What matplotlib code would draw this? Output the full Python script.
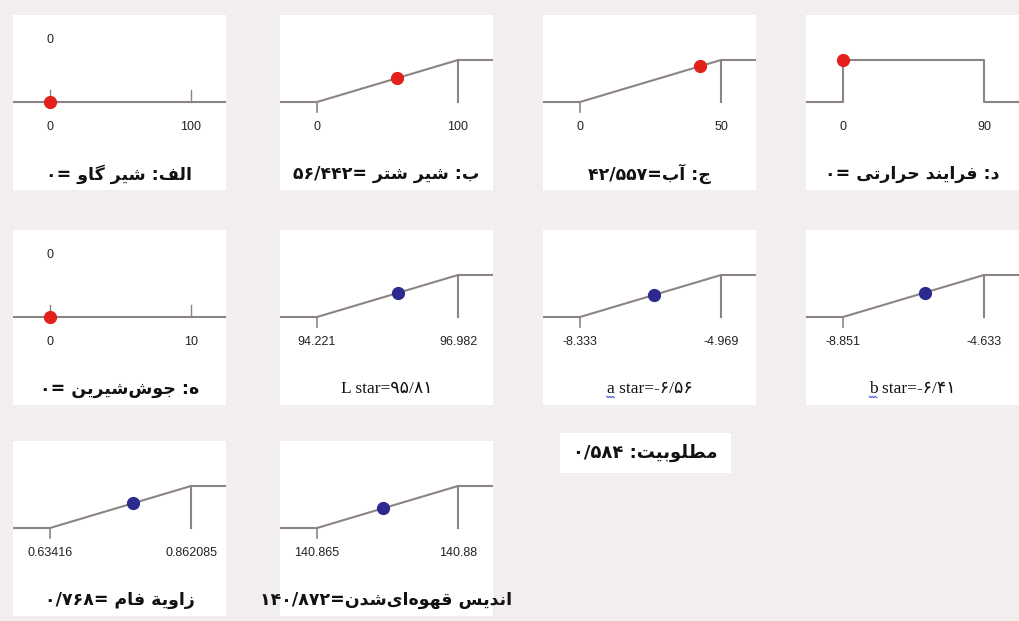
import re
import matplotlib
matplotlib.use("Agg")
import matplotlib.pyplot as plt
from matplotlib.patches import Rectangle
from matplotlib.lines import Line2D

# ---- data -------------------------------------------------------------
# factors (top row + first panel of the second row)
factor_titles = ["الف: شیر گاو =۰", "ب: شیر شتر =۵۶/۴۴۲", "ج: آب=۴۲/۵۵۷",
                 "د: فرایند حرارتی =۰", "ه: جوش\u200cشیرین =۰"]
factor_low = [0, 0, 0, 0, 0]
factor_high = [100, 100, 50, 90, 10]
factor_value = [0, 56.442, 42.557, 0, 0]
factor_kind = ["flat", "ramp", "ramp", "step", "flat"]

# responses (maximise goal)
response_titles = ["L star=۹۵/۸۱", "a star=-۶/۵۶", "b star=-۶/۴۱",
                   "زاویة فام =۰/۷۶۸", "اندیس قهوه\u200cای\u200cشدن=۱۴۰/۸۷۲"]
response_low = [94.221, -8.333, -8.851, 0.63416, 140.865]
response_high = [96.982, -4.969, -4.633, 0.862085, 140.88]
response_value = [95.81, -6.56, -6.41, 0.768, 140.872]
response_tick_labels = [("94.221", "96.982"), ("-8.333", "-4.969"), ("-8.851", "-4.633"),
                        ("0.63416", "0.862085"), ("140.865", "140.88")]

desirability_text = "مطلوبیت: ۰/۵۸۴"

# ---- simple Persian shaping / visual ordering --------------------------
FORMS = {
    'ا': (0xFE8D, 0xFE8E), 'آ': (0xFE81, 0xFE82),
    'ب': (0xFE8F, 0xFE90, 0xFE91, 0xFE92), 'پ': (0xFB56, 0xFB57, 0xFB58, 0xFB59),
    'ت': (0xFE95, 0xFE96, 0xFE97, 0xFE98), 'ج': (0xFE9D, 0xFE9E, 0xFE9F, 0xFEA0),
    'ح': (0xFEA1, 0xFEA2, 0xFEA3, 0xFEA4), 'د': (0xFEA9, 0xFEAA),
    'ر': (0xFEAD, 0xFEAE), 'ز': (0xFEAF, 0xFEB0),
    'س': (0xFEB1, 0xFEB2, 0xFEB3, 0xFEB4), 'ش': (0xFEB5, 0xFEB6, 0xFEB7, 0xFEB8),
    'ط': (0xFEC1, 0xFEC2, 0xFEC3, 0xFEC4), 'ف': (0xFED1, 0xFED2, 0xFED3, 0xFED4),
    'ق': (0xFED5, 0xFED6, 0xFED7, 0xFED8), 'گ': (0xFB92, 0xFB93, 0xFB94, 0xFB95),
    'ل': (0xFEDD, 0xFEDE, 0xFEDF, 0xFEE0), 'م': (0xFEE1, 0xFEE2, 0xFEE3, 0xFEE4),
    'ن': (0xFEE5, 0xFEE6, 0xFEE7, 0xFEE8), 'ه': (0xFEE9, 0xFEEA, 0xFEEB, 0xFEEC),
    'و': (0xFEED, 0xFEEE), 'ی': (0xFBFC, 0xFBFD, 0xFBFE, 0xFBFF),
    'ة': (0xFE93, 0xFE94),
}


def shape(s):
    out = []
    for i, ch in enumerate(s):
        f = FORMS.get(ch)
        if f is None:
            if ch != '\u200c':
                out.append(ch)
            continue
        prev = s[i - 1] if i > 0 else ''
        nxt = s[i + 1] if i + 1 < len(s) else ''
        from_prev = prev in FORMS and len(FORMS[prev]) == 4
        to_next = len(f) == 4 and nxt in FORMS
        if from_prev and to_next:
            code = f[3]
        elif from_prev:
            code = f[1]
        elif to_next:
            code = f[2]
        else:
            code = f[0]
        out.append(chr(code))
    return ''.join(out)


def rtl(s):
    tokens = re.findall(r'[۰-۹0-9]+(?:[/.][۰-۹0-9]+)*|[^۰-۹0-9]+', shape(s))
    return ''.join(t if t[0].isdigit() else t[::-1] for t in reversed(tokens))


# ---- layout ----------------------------------------------------------
W, H = 1019, 621
BG = "#f2eeee"
LINE = "#8c8482"
RED = "#e3201b"
BLUE = "#2c2a8e"
col_left = [13, 280, 543, 806]
row_top = [15, 230, 441]
PW, PH = 213, 175
LO_PX, HI_PX = 37, 178          # x of low / high value inside a panel
Y0_PX, Y1_PX = 87, 45           # y of desirability 0 / 1 from panel top
LABEL_Y, TITLE_Y = -0.6, -1.72
fa_font = ["DejaVu Sans"]
num_font = ["Liberation Sans", "DejaVu Sans"]

fig = plt.figure(figsize=(W / 100, H / 100), dpi=100, facecolor=BG)


def panel(col, row, lo, hi):
    left, top = col_left[col], row_top[row]
    ax = fig.add_axes([left / W, 1 - (top + PH) / H, PW / W, PH / H])
    ax.set_facecolor("white")
    for s in ax.spines.values():
        s.set_visible(False)
    ax.set_xticks([])
    ax.set_yticks([])
    unit = (hi - lo) / (HI_PX - LO_PX)
    ax.set_xlim(lo - LO_PX * unit, lo + (PW - LO_PX) * unit)
    yunit = 1 / (Y0_PX - Y1_PX)
    ax.set_ylim(-(PH - Y0_PX) * yunit, 1 + Y1_PX * yunit)
    return ax


def ramp(ax, lo, hi):
    x0, x1 = ax.get_xlim()
    ax.plot([x0, lo, hi, x1], [0, 0, 1, 1], color=LINE, lw=1.5, solid_capstyle="butt")
    ax.plot([hi, hi], [0, 1], color=LINE, lw=1.5)
    ax.plot([lo, lo], [0, -0.24], color=LINE, lw=1.2)


def bottom_labels(ax, lo, hi, lo_txt, hi_txt):
    for x, t in ((lo, lo_txt), (hi, hi_txt)):
        ax.text(x, LABEL_Y, t, ha="center", va="center", fontsize=9,
                family=num_font, color="#222222")


# factor panels
positions = [(0, 0), (1, 0), (2, 0), (3, 0), (0, 1)]
for i, (c, r) in enumerate(positions):
    lo, hi, v = factor_low[i], factor_high[i], factor_value[i]
    ax = panel(c, r, lo, hi)
    x0, x1 = ax.get_xlim()
    kind = factor_kind[i]
    if kind == "flat":
        ax.plot([x0, x1], [0, 0], color=LINE, lw=1.5)
        for x in (lo, hi):
            ax.plot([x, x], [0, 0.28], color=LINE, lw=1.0)
        ax.text(lo, 1.48, f"{v:g}", ha="center", va="center", fontsize=9,
                family=num_font, color="#222222")
        vy = 0
    elif kind == "step":
        ax.plot([x0, lo, lo, hi, hi, x1], [0, 0, 1, 1, 0, 0], color=LINE, lw=1.5)
        vy = 1
    else:
        ramp(ax, lo, hi)
        vy = (v - lo) / (hi - lo)
    ax.plot([v], [vy], "o", ms=8.5, color=RED, mec=RED, zorder=5, clip_on=False)
    bottom_labels(ax, lo, hi, f"{lo:g}", f"{hi:g}")
    ax.text((x0 + x1) / 2, TITLE_Y, rtl(factor_titles[i]), ha="center", va="center",
            fontsize=12.5, fontweight="bold", family=fa_font, color="#111111")

# response panels
squiggle_texts = []
positions = [(1, 1), (2, 1), (3, 1), (0, 2), (1, 2)]
for i, (c, r) in enumerate(positions):
    lo, hi, v = response_low[i], response_high[i], response_value[i]
    ax = panel(c, r, lo, hi)
    x0, x1 = ax.get_xlim()
    ramp(ax, lo, hi)
    ax.plot([v], [(v - lo) / (hi - lo)], "o", ms=8.5, color=BLUE, mec=BLUE, zorder=5)
    bottom_labels(ax, lo, hi, *response_tick_labels[i])
    title = response_titles[i]
    if title[0].isascii():
        t = ax.text((x0 + x1) / 2, TITLE_Y, title, ha="center", va="center",
                    fontsize=12.5, family=["Liberation Serif", "DejaVu Sans"],
                    color="#111111")
        if title[0] in "ab":
            squiggle_texts.append(t)
    else:
        ax.text((x0 + x1) / 2, TITLE_Y, rtl(title), ha="center", va="center",
                fontsize=12.5, fontweight="bold", family=fa_font, color="#111111",
                clip_on=False)

# overall desirability box
fig.patches.append(Rectangle((560 / W, 1 - 473 / H), 171 / W, 40 / H,
                             transform=fig.transFigure, fc="white", ec="none"))
fig.text(645 / W, 1 - 453 / H, rtl(desirability_text), ha="center", va="center",
         fontsize=13, fontweight="bold", family=fa_font, color="#111111")

# wavy spell-check underline below the single letters "a" / "b"
fig.canvas.draw()
for t in squiggle_texts:
    bb = t.get_window_extent()
    xs = [bb.x0 + k * 1.5 for k in range(6)]
    ys = [bb.y0 + 1 - (k % 2) * 1.5 for k in range(6)]
    fig.lines.append(Line2D([x / W for x in xs], [y / H for y in ys],
                            transform=fig.transFigure, color="#4a5fd0", lw=0.8))

fig.savefig("out.png", dpi=100, facecolor=BG)
